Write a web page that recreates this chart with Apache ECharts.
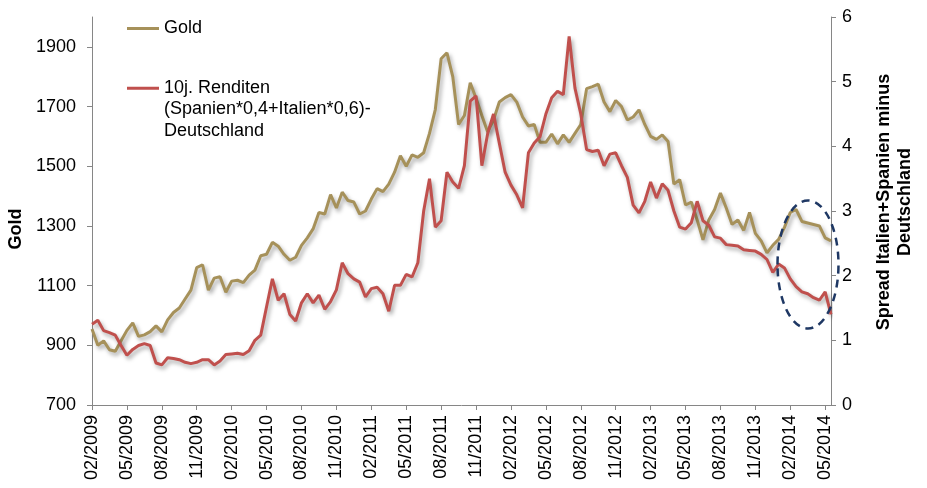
<!DOCTYPE html>
<html>
<head>
<meta charset="utf-8">
<script src="https://cdn.jsdelivr.net/npm/echarts@6/dist/echarts.min.js"></script>
<style>
  html, body { margin: 0; padding: 0; background: #fff; }
  #chart { width: 927px; height: 488px; }
</style>
</head>
<body>
<div id="chart"></div>
<script>
// half-monthly samples, 02/2009 .. 05/2014
const months = ['02/2009', '03/2009', '04/2009', '05/2009', '06/2009', '07/2009', '08/2009', '09/2009', '10/2009', '11/2009', '12/2009',
  '01/2010', '02/2010', '03/2010', '04/2010', '05/2010', '06/2010', '07/2010', '08/2010', '09/2010', '10/2010', '11/2010', '12/2010',
  '01/2011', '02/2011', '03/2011', '04/2011', '05/2011', '06/2011', '07/2011', '08/2011', '09/2011', '10/2011', '11/2011', '12/2011',
  '01/2012', '02/2012', '03/2012', '04/2012', '05/2012', '06/2012', '07/2012', '08/2012', '09/2012', '10/2012', '11/2012', '12/2012',
  '01/2013', '02/2013', '03/2013', '04/2013', '05/2013', '06/2013', '07/2013', '08/2013', '09/2013', '10/2013', '11/2013', '12/2013',
  '01/2014', '02/2014', '03/2014', '04/2014', '05/2014']
const dates = months.flatMap(m => [m, m + ' (15.)'])

const gold = [
  955, 900, 915, 885, 880, 915, 950, 975, 930, 935, 946, 965,
  945, 985, 1010, 1025, 1055, 1085, 1160, 1170, 1085, 1125, 1130, 1078,
  1115, 1118, 1110, 1135, 1152, 1200, 1205, 1245, 1232, 1205, 1185, 1195,
  1235, 1260, 1290, 1345, 1340, 1405, 1360, 1413, 1385, 1380, 1340, 1350,
  1390, 1425, 1415, 1440, 1480, 1535, 1500, 1538, 1530, 1545, 1610, 1690,
  1860, 1880, 1800, 1640, 1670, 1780, 1728, 1670, 1615, 1655, 1715, 1730,
  1740, 1715, 1665, 1635, 1640, 1580, 1580, 1608, 1575, 1605, 1580, 1610,
  1640, 1760, 1767, 1775, 1715, 1683, 1720, 1700, 1655, 1665, 1689, 1640,
  1600, 1590, 1605, 1583, 1440, 1455, 1370, 1380, 1320, 1253, 1320, 1355,
  1410, 1360, 1305, 1320, 1285, 1345, 1275, 1250, 1210, 1235, 1255, 1295,
  1345, 1355, 1315, 1310, 1305, 1300, 1260, 1250
]

const spread = [
  1.25, 1.31, 1.15, 1.12, 1.08, 0.92, 0.77, 0.86, 0.92, 0.95, 0.92, 0.65,
  0.62, 0.73, 0.72, 0.70, 0.66, 0.64, 0.66, 0.70, 0.70, 0.62, 0.68, 0.78,
  0.79, 0.80, 0.78, 0.84, 1.00, 1.08, 1.52, 1.95, 1.62, 1.72, 1.40, 1.30,
  1.58, 1.72, 1.58, 1.70, 1.48, 1.60, 1.78, 2.20, 2.03, 1.95, 1.90, 1.67,
  1.80, 1.82, 1.72, 1.45, 1.85, 1.85, 2.02, 1.98, 2.20, 3.00, 3.50, 2.75,
  2.85, 3.60, 3.45, 3.35, 3.70, 4.70, 4.78, 3.70, 4.20, 4.50, 4.05, 3.60,
  3.40, 3.25, 3.05, 3.90, 4.05, 4.15, 4.50, 4.75, 4.85, 4.80, 5.70, 4.90,
  4.50, 3.95, 3.92, 3.94, 3.70, 3.88, 3.90, 3.70, 3.52, 3.09, 2.97, 3.15,
  3.45, 3.20, 3.42, 3.32, 3.00, 2.75, 2.72, 2.82, 3.15, 2.85, 2.78, 2.60,
  2.58, 2.48, 2.47, 2.46, 2.40, 2.39, 2.38, 2.33, 2.25, 2.05, 2.18, 2.12,
  1.95, 1.83, 1.75, 1.72, 1.66, 1.62, 1.75, 1.40
]

const goldName = 'Gold'
const spreadName = '10j. Renditen\n(Spanien*0,4+Italien*0,6)-\nDeutschland'

const font = 'Liberation Sans, Arial, sans-serif'
const axisGray = '#868686'
const goldColor = '#A6915A'
const redColor = '#C0504D'

const chart = echarts.init(document.getElementById('chart'), null, { renderer: 'canvas' })

const shadow = { shadowColor: 'rgba(0,0,0,0.35)', shadowBlur: 4, shadowOffsetX: 2, shadowOffsetY: 3 }

chart.setOption({
  animation: false,
  backgroundColor: '#fff',
  textStyle: { fontFamily: font },
  grid: { left: 92, right: 96, top: 17, bottom: 83, outerBoundsMode: 'none', containLabel: false },
  legend: [
    {
      data: [goldName],
      left: 122, top: 13,
      itemWidth: 32, itemHeight: 3,
      icon: 'rect',
      textStyle: { fontSize: 18, color: '#000', fontFamily: font, lineHeight: 21 }
    },
    {
      data: [spreadName],
      left: 122, top: 72,
      itemWidth: 32, itemHeight: 64,
      icon: 'path://M0,0L0.01,0L0.01,0.01Z M0,9.5L32,9.5L32,12.5L0,12.5Z M0,64L0.01,64L0.01,63.99Z',
      textStyle: { fontSize: 18, color: '#000', fontFamily: font, lineHeight: 21.5 }
    }
  ],
  xAxis: {
    type: 'category',
    data: dates,
    boundaryGap: false,
    axisLine: { lineStyle: { color: axisGray, width: 1 } },
    axisTick: { interval: (i) => i % 6 === 0, length: 5, lineStyle: { color: axisGray } },
    axisLabel: {
      interval: (i) => i % 6 === 0,
      rotate: 90,
      margin: 10,
      fontSize: 18,
      color: '#000',
      fontFamily: font,
      formatter: (v) => v.slice(0, 7)
    },
    splitLine: { show: false }
  },
  yAxis: [
    {
      type: 'value',
      min: 700, max: 2000, interval: 200,
      name: 'Gold',
      nameLocation: 'middle',
      nameRotate: 90,
      nameGap: 61,
      nameTextStyle: { fontSize: 18, fontWeight: 'bold', color: '#000', fontFamily: font, padding: [0, 36, 0, 0] },
      axisLine: { show: true, lineStyle: { color: axisGray } },
      axisTick: { show: true, length: 5, lineStyle: { color: axisGray } },
      axisLabel: { fontSize: 18, color: '#000', fontFamily: font, margin: 16, showMaxLabel: false, formatter: (v) => String(v) },
      splitLine: { show: false }
    },
    {
      type: 'value',
      min: 0, max: 6, interval: 1,
      position: 'right',
      name: 'Spread Italien+Spanien minus\nDeutschland',
      nameLocation: 'middle',
      nameRotate: 90,
      nameGap: 43,
      nameTextStyle: { fontSize: 18, fontWeight: 'bold', color: '#000', fontFamily: font, lineHeight: 21, padding: [0, 0, 0, 18] },
      axisLine: { show: true, lineStyle: { color: axisGray } },
      axisTick: { show: true, length: 5, lineStyle: { color: axisGray } },
      axisLabel: { fontSize: 18, color: '#000', fontFamily: font, margin: 11 },
      splitLine: { show: false }
    }
  ],
  series: [
    {
      name: goldName,
      type: 'line',
      yAxisIndex: 0,
      data: gold,
      showSymbol: false,
      symbol: 'none',
      itemStyle: { color: goldColor },
      lineStyle: Object.assign({ color: goldColor, width: 3 }, shadow),
      z: 2
    },
    {
      name: spreadName,
      type: 'line',
      yAxisIndex: 1,
      data: spread,
      showSymbol: false,
      symbol: 'none',
      itemStyle: { color: redColor },
      lineStyle: Object.assign({ color: redColor, width: 3 }, shadow),
      z: 3
    }
  ],
  graphic: [
    {
      type: 'ellipse',
      shape: { cx: 808, cy: 264.5, rx: 30.5, ry: 64 },
      style: { fill: 'none', stroke: '#1F3864', lineWidth: 2.5, lineDash: [8, 6] },
      z: 100
    }
  ]
})
</script>
</body>
</html>
